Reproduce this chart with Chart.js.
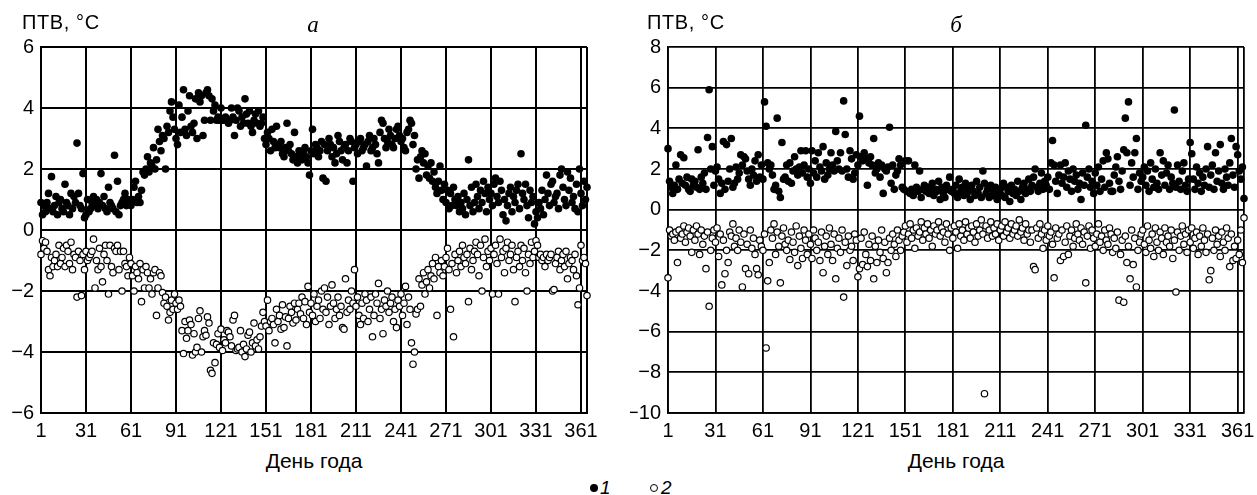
<!DOCTYPE html>
<html>
<head>
<meta charset="utf-8">
<script src="https://cdn.jsdelivr.net/npm/chart.js@4.4.0/dist/chart.umd.min.js"></script>
<style>
  body { margin: 0; background: #fff; width: 1257px; height: 495px; position: relative; overflow: hidden;
         font-family: "Liberation Sans", Arial, sans-serif; color: #000; }
  canvas { position: absolute; top: 0; }
  .t { position: absolute; white-space: nowrap; line-height: 1; }
  .unit { font-size: 20px; top: 12px; letter-spacing: 0.6px; }
  .panel { font-family: "Liberation Serif", "Times New Roman", serif; font-style: italic; font-size: 23px; top: 13px; transform: translateX(-50%); }
  .axis { font-size: 21px; top: 450px; transform: translateX(-50%); }
  .leg { top: 478px; font-size: 19px; font-style: italic; }
  .dot { position: absolute; width: 8px; height: 8px; border-radius: 50%; top: 484px; box-sizing: border-box; }
</style>
</head>
<body>
<canvas id="chartA" width="620" height="445" style="left:0"></canvas>
<canvas id="chartB" width="627" height="445" style="left:630px"></canvas>

<div class="t unit" style="left:22px">ПТВ, °C</div>
<div class="t panel" style="left:313px">а</div>
<div class="t axis" style="left:314px">День года</div>

<div class="t unit" style="left:647px">ПТВ, °C</div>
<div class="t panel" style="left:956px">б</div>
<div class="t axis" style="left:956px">День года</div>

<div class="dot" style="left:590px;background:#000"></div>
<div class="t leg" style="left:600px">1</div>
<div class="dot" style="left:650px;background:#fff;border:1.2px solid #000"></div>
<div class="t leg" style="left:661px">2</div>

<script>
// день года: 1..365
const xTicks = [1, 31, 61, 91, 121, 151, 181, 211, 241, 271, 301, 331, 361];
const yTicksA = [-6, -4, -2, 0, 2, 4, 6];
const yTicksB = [-10, -8, -6, -4, -2, 0, 2, 4, 6, 8];

// панель а, ряд 1 (чёрные точки)
const ptvA1 = [
  0.9, 0.5, 0.8, 0.6, 0.9, 1.2, 0.7, 1.75, 0.6, 0.8,
  1.1, 0.5, 0.9, 1.0, 0.7, 0.6, 1.5, 0.9, 0.8, 0.5,
  1.2, 0.7, 1.1, 0.9, 2.85, 1.2, 0.8, 0.7, 1.85, 0.4,
  0.5, 1.0, 0.6, 0.7, 0.9, 1.1, 0.8, 1.0, 0.7, 0.9,
  1.85, 0.8, 1.1, 0.7, 0.6, 1.4, 0.9, 0.8, 0.7, 2.45,
  0.6, 1.6, 0.5, 0.8, 0.9, 1.0, 1.2, 0.8, 1.0, 0.9,
  0.8, 1.0, 1.4, 1.6, 0.9, 1.1, 0.9, 1.3, 1.9, 1.8,
  2.0, 2.4, 1.9, 2.2, 2.1, 2.7, 2.0, 2.3, 3.3, 2.9,
  2.6, 3.1, 3.0, 2.0, 3.4, 3.2, 3.9, 4.2, 3.7, 3.3,
  3.0, 2.8, 4.1, 3.2, 3.7, 4.6, 3.3, 3.1, 3.9, 4.4,
  3.4, 3.2, 3.5, 4.3, 3.0, 4.5, 4.2, 4.4, 3.1, 3.6,
  4.5, 4.6, 4.4, 3.6, 4.3, 3.9, 4.1, 3.6, 3.7, 3.6,
  4.0, 3.6, 3.6, 3.7, 3.6, 3.5, 3.6, 4.0, 3.7, 3.1,
  3.6, 4.0, 3.9, 3.4, 3.7, 3.5, 4.3, 3.8, 3.5, 3.9,
  3.4, 3.2, 3.6, 3.8, 3.5, 3.9, 3.4, 3.5, 3.7, 3.0,
  2.8, 3.2, 3.0, 2.6, 3.3, 2.9, 2.7, 3.4, 2.8, 2.7,
  2.9, 2.5, 2.4, 2.7, 3.5, 2.6, 2.8, 2.5, 2.3, 3.2,
  2.4, 2.2, 2.6, 2.5, 2.3, 2.6, 2.7, 2.4, 2.2, 1.8,
  2.6, 3.3, 2.5, 2.8, 2.7, 2.4, 2.6, 2.9, 1.7, 2.8,
  1.6, 2.6, 3.0, 2.8, 2.4, 2.7, 2.2, 2.5, 3.1, 2.9,
  2.6, 2.3, 2.7, 2.8, 2.2, 2.6, 3.0, 2.9, 1.6, 2.7,
  2.8, 2.5, 2.9, 3.0, 2.6, 2.7, 2.8, 2.1, 2.9, 3.1,
  2.6, 2.7, 3.0, 2.8, 2.5, 2.2, 3.2, 3.6, 3.5, 3.0,
  2.7, 2.9, 3.3, 3.1, 2.8, 2.7, 3.0, 3.3, 3.4, 3.1,
  2.9, 3.0, 2.7, 2.6, 3.2, 3.3, 3.6, 3.5, 2.8, 3.1,
  2.0, 2.3, 1.7, 2.4, 2.6, 2.2, 2.5, 1.8, 2.1, 1.7,
  2.2, 1.6, 1.9, 1.4, 1.2, 1.6, 2.1, 1.3, 1.0, 1.5,
  0.9, 1.3, 0.7, 1.2, 0.8, 1.4, 1.0, 0.8, 1.1, 0.6,
  0.9, 0.7, 1.2, 0.5, 1.0, 2.3, 0.8, 1.4, 0.6, 0.9,
  1.5, 1.1, 0.7, 1.3, 0.9, 1.6, 1.2, 0.6, 1.4, 1.0,
  1.2, 0.8, 1.5, 1.7, 1.1, 0.9, 1.6, 1.3, 0.5, 1.0,
  0.3, 0.8, 1.2, 1.4, 0.6, 1.1, 0.9, 1.3, 1.5, 0.7,
  2.5, 1.2, 1.0, 1.5, 0.8, 0.4, 1.3, 0.9, 1.1, 0.2,
  0.6, 0.4, 0.9, 0.7, 1.3, 0.5, 1.0, 1.8, 1.2, 0.8,
  1.5, 1.6, 0.9, 1.1, 1.2, 0.7, 1.8, 2.0, 1.4, 1.0,
  0.8, 1.9, 1.3, 1.7, 0.9, 1.1, 0.7, 1.5, 0.6, 2.0,
  1.2, 0.8, 1.6, 1.0, 1.4
];

// панель а, ряд 2 (светлые кружки)
const ptvA2 = [
  -0.8, -0.35, -0.6, -0.4, -0.7, -1.3, -1.5, -0.9, -1.2, -1.0,
  -0.8, -1.2, -0.5, -1.1, -0.9, -0.6, -1.2, -0.5, -0.7, -1.1,
  -0.4, -1.3, -0.8, -0.9, -2.2, -0.7, -1.0, -2.15, -0.8, -1.3,
  -0.7, -1.0, -0.9, -0.8, -0.7, -0.3, -1.9, -1.0, -1.3, -0.6,
  -1.2, -1.7, -0.8, -0.5, -1.0, -2.1, -0.5, -1.2, -1.4, -0.6,
  -0.7, -0.5, -1.3, -0.7, -2.0, -0.7, -1.1, -1.2, -1.5, -0.9,
  -1.1, -1.5, -2.0, -1.2, -1.4, -1.6, -1.1, -2.35, -1.3, -1.9,
  -1.2, -1.4, -1.9, -1.6, -2.1, -1.4, -1.3, -2.8, -1.9, -1.4,
  -1.5, -2.05, -2.4, -2.2, -2.5, -2.95, -2.7, -2.3, -2.6, -2.1,
  -2.4, -2.6, -2.3, -2.5, -3.3, -4.05, -3.0, -3.55, -3.3, -2.95,
  -3.1, -4.1, -3.4, -4.0, -3.85, -2.9, -2.65, -4.0, -3.5, -3.3,
  -3.45, -2.85, -3.05, -4.6, -4.7, -3.7, -4.35, -3.75, -3.4, -3.85,
  -3.25, -3.95, -3.6, -3.7, -3.3, -3.35, -3.5, -3.8, -2.95, -2.8,
  -3.95, -3.9, -3.85, -3.3, -4.0, -3.75, -4.15, -3.9, -3.45, -3.35,
  -4.0, -3.7, -3.05, -3.8, -3.6, -3.9, -3.5, -3.15, -2.7, -3.0,
  -3.15, -2.3, -3.3, -3.0, -2.9, -3.1, -3.7, -2.6, -3.0, -2.8,
  -3.25, -2.45, -3.2, -2.85, -3.8, -2.9, -2.5, -2.7, -3.05, -2.4,
  -2.95, -2.6, -2.4, -2.75, -2.2, -2.9, -2.35, -3.1, -1.85, -2.7,
  -2.4, -2.8, -2.1, -3.0, -2.5, -2.3, -2.9, -2.0, -2.6, -1.9,
  -2.7, -2.2, -3.1, -2.5, -1.8, -2.4, -2.9, -2.6, -2.2, -2.8,
  -2.5, -3.2, -3.25, -1.6, -2.7, -2.3, -2.6, -2.0, -2.4, -1.3,
  -2.5, -2.2, -2.8, -3.1, -2.4, -2.9, -2.1, -2.3, -3.0, -2.6,
  -2.2, -3.5, -2.8, -2.1, -2.4, -1.75, -2.9, -2.6, -3.4, -2.3,
  -2.5, -2.0, -2.7, -2.4, -2.2, -3.0, -2.6, -3.2, -2.3, -2.5,
  -2.1, -2.8, -2.4, -1.85, -3.1, -2.2, -2.6, -3.7, -4.4, -4.0,
  -2.75, -2.6, -1.6, -2.5, -1.8, -1.4, -2.1, -1.7, -1.3, -1.9,
  -1.5, -1.1, -1.6, -0.9, -2.8, -1.2, -1.4, -1.0, -1.5, -1.2,
  -0.9, -0.6, -1.3, -2.6, -1.1, -3.5, -0.8, -1.4, -1.0, -0.7,
  -1.2, -0.5, -0.9, -1.1, -0.8, -2.35, -0.6, -1.3, -1.0, -0.7,
  -0.4, -0.8, -1.5, -0.5, -2.0, -0.9, -0.3, -1.2, -0.7, -1.0,
  -0.6, -2.1, -0.8, -0.5, -1.1, -2.1, -0.3, -0.9, -0.7, -1.4,
  -0.6, -0.4, -1.0, -0.8, -0.5, -1.3, -2.35, -0.9, -0.7, -1.2,
  -0.5, -1.0, -0.6, -1.4, -2.0, -0.8, -1.1, -0.4, -0.9, -0.7,
  -0.35, -0.5, -0.9, -0.8, -1.0, -0.9, -1.2, -0.8, -1.0, -0.9,
  -0.8, -2.0, -1.95, -1.1, -0.9, -0.7, -1.3, -1.0, -0.8, -1.2,
  -0.7, -1.6, -1.1, -0.9, -1.0, -1.3, -0.8, -1.5, -2.45, -1.9,
  -0.5, -1.0, -0.9, -1.1, -2.15
];

// панель б, ряд 1 (чёрные точки)
const ptvB1 = [
  3.0, 1.4, 1.1, 0.8, 1.2, 2.2, 1.0, 1.5, 2.7, 1.3,
  2.55, 1.2, 1.6, 1.0, 0.9, 1.5, 1.2, 1.4, 1.1, 2.95,
  1.0, 1.6, 1.3, 1.8, 1.0, 3.55, 5.9, 2.0, 3.1, 1.2,
  1.9, 2.1, 1.5, 0.8, 1.3, 3.35, 1.0, 3.2, 1.4, 2.0,
  3.5, 1.1, 1.3, 2.1, 1.5, 1.8, 2.7, 2.2, 2.6, 2.5,
  1.9, 1.5, 1.2, 2.0, 1.7, 2.4, 1.4, 2.7, 1.6, 2.2,
  1.5, 5.3, 4.1, 2.3, 2.0, 2.2, 1.7, 1.0, 1.2, 4.5,
  0.9, 0.6, 3.3, 1.5, 1.6, 2.2, 1.4, 2.3, 1.3, 1.9,
  2.6, 2.0, 1.7, 2.1, 2.9, 1.8, 2.2, 2.9, 1.6, 2.0,
  1.3, 2.9, 1.8, 2.4, 1.6, 2.8, 2.1, 1.9, 3.1, 1.5,
  2.3, 1.7, 2.0, 2.8, 2.2, 1.9, 3.85, 2.4, 2.0, 2.8,
  1.9, 5.35, 3.7, 2.0, 1.6, 2.9, 2.5, 1.5, 1.8, 2.7,
  2.2, 4.6, 2.6, 2.4, 2.8, 2.5, 1.2, 2.3, 2.6, 2.2,
  3.5, 1.8, 2.0, 2.3, 1.6, 2.2, 0.8, 2.0, 1.9, 2.1,
  4.05, 1.3, 2.2, 1.0, 1.7, 1.9, 2.5, 2.2, 1.1, 1.0,
  2.4, 0.9, 2.4, 0.8, 1.0, 0.7, 2.2, 1.1, 0.9, 1.9,
  0.6, 1.0, 1.2, 0.9, 1.1, 0.8, 1.0, 1.3, 0.7, 1.0,
  0.9, 1.4, 0.5, 1.1, 0.8, 0.6, 1.2, 1.0, 1.6, 0.9,
  1.0, 0.8, 1.2, 0.6, 1.5, 0.9, 1.1, 0.7, 1.3, 0.8,
  1.0, 0.5, 1.2, 0.9, 0.7, 1.4, 0.8, 1.1, 0.6, 1.9,
  1.3, 0.8, 1.0, 0.6, 1.2, 0.7, 0.9, 1.1, 0.5, 0.8,
  1.0, 0.7, 1.3, 0.6, 1.1, 0.9, 0.4, 1.2, 0.8, 1.0,
  0.7, 1.4, 0.9, 0.5, 1.1, 1.3, 0.8, 1.0, 1.5, 0.9,
  1.2, 1.6, 2.0, 1.1, 0.9, 1.3, 1.8, 1.0, 1.4, 1.2,
  1.6, 1.0, 2.3, 3.4, 2.2, 1.4, 0.8, 1.7, 2.2, 1.3,
  1.6, 2.3, 1.1, 1.9, 1.5, 0.9, 2.0, 1.4, 1.7, 1.0,
  1.3, 0.5, 1.8, 1.2, 4.15, 1.6, 2.0, 1.1, 1.4, 0.8,
  1.8, 1.2, 2.1, 0.9, 1.5, 2.4, 1.1, 2.8, 2.5, 1.3,
  0.9, 0.9, 1.7, 2.1, 2.6, 1.4, 1.0, 1.9, 2.95, 4.5,
  2.8, 5.3, 1.2, 2.3, 1.6, 2.8, 3.5, 1.0, 1.8, 1.4,
  1.6, 2.1, 1.2, 1.9, 0.9, 2.3, 1.5, 1.1, 2.0, 1.3,
  1.0, 2.8, 1.7, 2.4, 1.2, 1.8, 2.2, 1.0, 1.6, 1.3,
  4.9, 1.1, 2.2, 1.4, 1.0, 1.9, 2.3, 1.2, 0.9, 1.5,
  3.3, 2.75, 1.5, 1.0, 2.1, 1.3, 1.8, 0.9, 1.6, 1.2,
  2.0, 3.1, 1.1, 1.7, 2.2, 1.0, 2.8, 1.4, 1.9, 3.2,
  1.3, 1.0, 2.0, 1.6, 1.2, 2.3, 3.5, 1.7, 1.1, 3.1,
  2.7, 1.9, 1.5, 2.1, 0.55
];

// панель б, ряд 2 (светлые кружки)
const ptvB2 = [
  -3.35, -1.0, -1.3, -1.2, -1.5, -1.1, -2.6, -1.0, -1.4, -1.2,
  -0.8, -1.6, -1.1, -0.9, -1.3, -2.1, -1.0, -1.5, -0.8, -1.2,
  -2.2, -1.0, -1.7, -1.3, -2.9, -1.1, -4.75, -2.0, -1.4, -1.0,
  -1.6, -0.9, -2.3, -1.2, -3.7, -1.5, -3.15, -2.0, -2.6, -1.1,
  -1.3, -0.7, -1.8, -1.4, -2.0, -1.0, -1.6, -3.8, -1.2, -2.9,
  -1.7, -3.15, -1.0, -1.9, -1.4, -2.2, -2.9, -3.2, -1.5, -1.8,
  -2.0, -1.2, -6.8, -3.5, -2.6, -1.0, -1.4, -0.7, -2.2, -1.1,
  -1.8, -3.6, -1.3, -0.9, -1.7, -2.0, -1.5, -2.45, -1.1, -1.6,
  -2.1, -0.8, -2.75, -1.3, -1.9, -2.4, -1.0, -1.5, -2.2, -1.2,
  -1.7, -2.4, -1.0, -1.4, -2.0, -1.6, -2.5, -1.1, -3.1, -1.8,
  -1.3, -2.2, -0.9, -1.7, -2.5, -1.2, -3.4, -1.9, -1.4, -2.1,
  -1.0, -4.3, -1.6, -2.75, -1.3, -2.0, -1.8, -2.5, -1.2, -1.5,
  -3.3, -2.9, -1.4, -2.7, -1.1, -2.2, -2.8, -1.7, -2.5, -1.3,
  -3.4, -1.8, -2.6, -1.5, -2.1, -1.0, -2.4, -1.6, -3.1, -2.6,
  -1.4, -2.0, -1.2, -1.7, -2.3, -1.0, -1.5, -2.0, -1.3, -1.1,
  -0.8, -1.6, -1.2, -0.7, -1.4, -1.0, -1.9, -0.9, -1.3, -1.1,
  -0.6, -1.5, -0.9, -1.2, -0.7, -1.4, -1.0, -1.8, -0.8, -1.2,
  -1.0, -0.6, -1.3, -0.9, -1.1, -1.6, -0.7, -1.2, -2.0, -0.9,
  -1.4, -0.8, -1.1, -1.9, -0.7, -1.3, -1.0, -1.5, -0.6, -1.2,
  -0.9, -1.4, -0.8, -1.1, -1.6, -0.7, -1.3, -1.0, -0.5, -1.2,
  -9.05, -0.8, -1.4, -1.0, -0.6, -1.3, -0.9, -1.2, -0.7, -1.5,
  -1.0, -0.8, -1.3, -0.6, -1.1, -0.9, -1.4, -0.7, -1.2, -1.0,
  -0.8, -1.3, -0.5, -1.1, -0.9, -1.5, -0.7, -1.2, -1.0, -1.6,
  -1.0, -2.8, -2.95, -0.9, -1.4, -0.7, -1.2, -1.9, -1.0, -1.5,
  -0.8, -1.3, -1.1, -1.7, -3.35, -0.9, -1.4, -1.2, -2.5, -1.0,
  -2.3, -1.6, -0.8, -2.2, -1.3, -1.0, -1.8, -1.4, -0.7, -1.2,
  -1.5, -0.9, -1.7, -1.1, -3.6, -1.3, -0.8, -1.9, -1.0, -1.4,
  -1.8, -1.2, -0.7, -1.6, -1.3, -2.0, -1.0, -1.5, -1.7, -0.9,
  -1.2, -2.1, -1.4, -1.9, -1.1, -4.45, -2.2, -1.5, -4.55, -1.3,
  -2.6, -1.8, -3.4, -1.0, -2.7, -1.4, -3.8, -2.0, -1.6, -1.2,
  -1.0, -1.7, -2.1, -0.8, -1.5, -1.9, -1.2, -2.3, -0.9, -1.6,
  -2.0, -1.1, -1.4, -2.2, -0.9, -1.6, -1.3, -1.8, -1.0, -2.4,
  -1.5, -4.05, -1.1, -2.0, -1.3, -0.8, -1.7, -1.2, -2.1, -1.0,
  -1.6, -0.9, -1.9, -1.4, -1.1, -2.2, -1.3, -1.8, -0.9, -1.5,
  -2.1, -1.2, -3.45, -3.0, -1.4, -2.0, -1.0, -1.7, -1.3, -2.3,
  -1.1, -1.6, -2.0, -0.9, -1.4, -2.8, -1.2, -2.5, -1.8, -2.4,
  -1.5, -2.2, -1.0, -2.6, -0.4
];

const FONT = '"Liberation Sans", Arial, sans-serif';

function toPoints(values) {
  return values.map((v, i) => ({ x: i + 1, y: v }));
}

function makeChart(id, s1, s2, yTicks, yWidth, padRight, gridWidth) {
  const ctx = document.getElementById(id).getContext('2d');
  return new Chart(ctx, {
    type: 'scatter',
    data: {
      datasets: [
        { label: '1', data: toPoints(s1), pointRadius: 3.8, pointBackgroundColor: '#000', pointBorderWidth: 0, clip: false },
        { label: '2', data: toPoints(s2), pointRadius: 3.2, pointBackgroundColor: '#fff', pointBorderColor: '#000', pointBorderWidth: 1.2, clip: false }
      ]
    },
    options: {
      responsive: false,
      animation: false,
      devicePixelRatio: 1,
      layout: { padding: { top: 47, right: padRight, left: 0, bottom: 0 } },
      plugins: { legend: { display: false }, tooltip: { enabled: false } },
      scales: {
        x: {
          type: 'linear', min: 1, max: 365,
          afterBuildTicks: s => { s.ticks = xTicks.concat([365]).map(v => ({ value: v })); },
          afterFit: s => { s.height = 32; },
          grid: { color: '#000', lineWidth: gridWidth, drawTicks: false },
          border: { color: '#000', width: gridWidth },
          ticks: { autoSkip: false, maxRotation: 0, padding: 6, color: '#000',
                   font: { family: FONT, size: 20 },
                   callback: v => (v === 365 ? '' : v) }
        },
        y: {
          min: yTicks[0], max: yTicks[yTicks.length - 1],
          afterBuildTicks: s => { s.ticks = yTicks.map(v => ({ value: v })); },
          afterFit: s => { s.width = yWidth; },
          grid: { color: '#000', lineWidth: gridWidth, drawTicks: false },
          border: { color: '#000', width: gridWidth },
          ticks: { padding: 7, color: '#000', font: { family: FONT, size: 20 },
                   callback: v => (v < 0 ? '\u2212' + Math.abs(v) : v) }
        }
      }
    }
  });
}

makeChart('chartA', ptvA1, ptvA2, yTicksA, 41, 33, 2);
makeChart('chartB', ptvB1, ptvB2, yTicksB, 38, 13, 1.8);
</script>
</body>
</html>
